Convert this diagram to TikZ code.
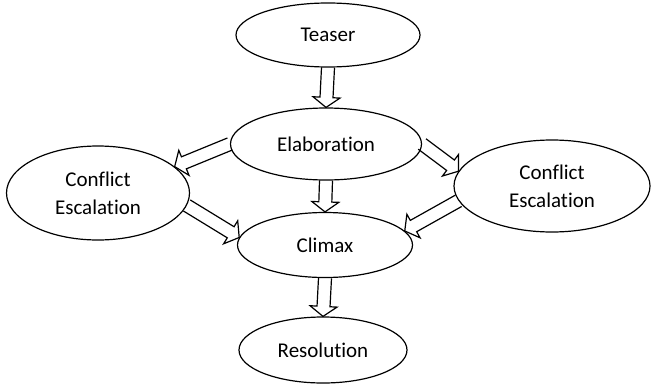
\documentclass[tikz,border=0pt]{standalone}
\usepackage{fontspec}
\setmainfont{Carlito}[Ligatures=NoCommon]
\usetikzlibrary{shapes.geometric,calc}

% hollow block arrow from #1 to #2
\newcommand{\blockarrow}[2]{%
  \coordinate (ba-head) at ($(#2)!5pt!(#1)$);
  \draw[blockline] ($(#1)!3.25pt!90:(#2)$) -- ($(ba-head)!3.25pt!90:(#2)$)
    -- ($(ba-head)!6.75pt!90:(#2)$) -- (#2) -- ($(ba-head)!6.75pt!-90:(#2)$)
    -- ($(ba-head)!3.25pt!-90:(#2)$) -- ($(#1)!3.25pt!-90:(#2)$);
}

\begin{document}
\begin{tikzpicture}[
    x=0.5pt, y=-0.5pt,
    stage/.style={ellipse, draw=black, line width=0.6pt, inner sep=0pt, align=center,
      font=\fontsize{10.5}{14}\selectfont},
    blockline/.style={draw=black, line width=0.6pt, line join=miter}
  ]
  \useasboundingbox (0,0) rectangle (651,385);

  % Stages
  \node[stage, minimum width=92pt, minimum height=32pt] (teaser) at (328,35) {Teaser};
  \node[stage, minimum width=95.5pt, minimum height=36pt] (elab) at (326,144) {Elaboration};
  \node[stage, minimum width=91.5pt, minimum height=47pt] (leftconf) at (98,193) {Conflict\\Escalation};
  \node[stage, minimum width=98pt, minimum height=46pt] (rightconf) at (552,186) {Conflict\\Escalation};
  \node[stage, minimum width=87.5pt, minimum height=32.5pt] (climax) at (325,245) {Climax};
  \node[stage, minimum width=84pt, minimum height=33pt] (resolution) at (323,350) {Resolution};

  % Arrows
  \blockarrow{teaser.south}{elab.north}
  \blockarrow{elab.west}{leftconf.19}
  \blockarrow{elab.east}{rightconf.171}
  \blockarrow{elab.south}{climax.north}
  \blockarrow{leftconf.-8}{climax.175}
  \blockarrow{rightconf.189}{climax.10}
  \blockarrow{climax.south}{resolution.north}
\end{tikzpicture}
\end{document}
